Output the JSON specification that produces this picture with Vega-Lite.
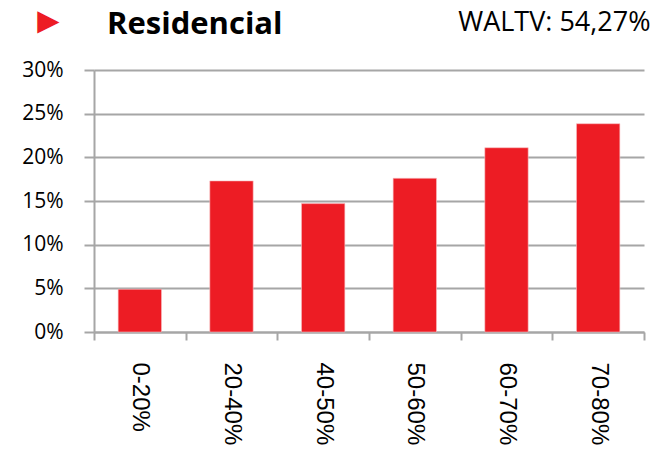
{
  "$schema": "https://vega.github.io/schema/vega-lite/v6.json",
  "width": 550,
  "height": 262,
  "autosize": {"type": "none"},
  "padding": {"left": 94, "top": 70, "right": 20, "bottom": 117},
  "background": "white",
  "title": {
    "text": "Residencial",
    "anchor": "start",
    "frame": "group",
    "font": "Open Sans",
    "fontSize": 31,
    "fontWeight": "bold",
    "color": "#000000",
    "baseline": "alphabetic",
    "dx": 13,
    "dy": 63
  },
  "data": {
    "values": [
      {"range": "0-20%", "share": 0.049},
      {"range": "20-40%", "share": 0.173},
      {"range": "40-50%", "share": 0.147},
      {"range": "50-60%", "share": 0.176},
      {"range": "60-70%", "share": 0.211},
      {"range": "70-80%", "share": 0.2385}
    ]
  },
  "mark": {"type": "bar", "color": "#ED1C24", "stroke": "#F8C0C2", "strokeWidth": 0.6, "width": {"band": 0.473}},
  "encoding": {
    "x": {
      "field": "range",
      "type": "nominal",
      "sort": null,
      "scale": {"paddingInner": 0, "paddingOuter": 0},
      "axis": {
        "title": "WALTV: 54,27%",
        "titleFont": "Open Sans",
        "titleFontSize": 27,
        "titleFontWeight": "normal",
        "titleColor": "#000000",
        "titleAnchor": "end",
        "titleAlign": "right",
        "titleBaseline": "alphabetic",
        "titleX": 556,
        "titleY": -302,
        "labelAngle": 90,
        "labelAlign": "left",
        "labelBaseline": "middle",
        "labelFont": "Liberation Sans",
        "labelFontSize": 24,
        "labelColor": "#000000",
        "labelPadding": 22,
        "tickBand": "extent",
        "tickSize": 8,
        "tickColor": "#A6A6A6",
        "tickWidth": 2,
        "domainColor": "#A6A6A6",
        "domainWidth": 2,
        "grid": false
      }
    },
    "y": {
      "field": "share",
      "type": "quantitative",
      "scale": {"domain": [0, 0.3], "nice": false},
      "axis": {
        "title": "▶",
        "titleColor": "#ED1C24",
        "titleFont": "DejaVu Sans",
        "titleFontSize": 29,
        "titleAngle": 0,
        "titleAlign": "center",
        "titleBaseline": "middle",
        "titleX": -46,
        "titleY": -50,
        "values": [0, 0.05, 0.1, 0.15, 0.2, 0.25, 0.3],
        "format": ".0%",
        "labelFont": "Open Sans",
        "labelFontSize": 21,
        "labelColor": "#000000",
        "labelPadding": 21,
        "tickSize": 10,
        "tickColor": "#A6A6A6",
        "tickWidth": 2,
        "domainColor": "#A6A6A6",
        "domainWidth": 2,
        "grid": true,
        "gridColor": "#A6A6A6",
        "gridWidth": 2
      }
    }
  },
  "config": {"view": {"stroke": null}}
}
